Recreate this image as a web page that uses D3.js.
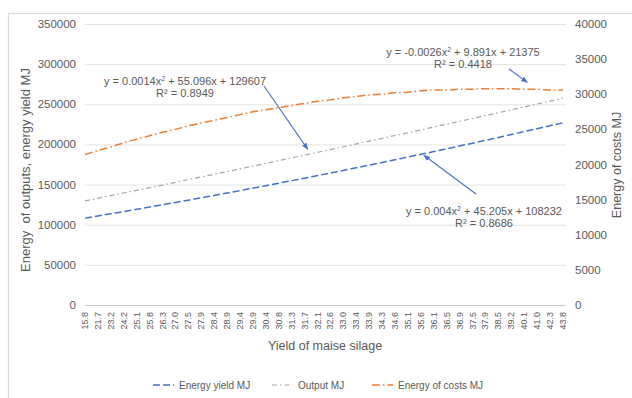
<!DOCTYPE html>
<html>
<head>
<meta charset="utf-8">
<script src="https://cdn.jsdelivr.net/npm/d3@7/dist/d3.min.js"></script>
<style>
  body { margin: 0; background: #fff; }
  text { font-family: "Liberation Sans", Arial, sans-serif; fill: #595959; }
</style>
</head>
<body>
<svg id="chart" width="632" height="398"></svg>
<script>
// categories (yield of maise silage)
const yields = ['15.8','21.7','23.2','24.2','25.1','25.8','26.3','27.0','27.5','27.9','28.4','28.9','29.4','29.9','30.4','30.8','31.3','31.7','32.1','32.6','33.0','33.4','33.9','34.3','34.6','35.1','35.6','36.1','36.5','36.9','37.5','37.9','38.5','39.2','40.1','41.0','42.3','43.8'];

// series
const energyYield = [108200,110900,113700,116400,119200,122000,124900,127700,130600,133600,136500,139500,142500,145600,148600,151700,154900,158000,161200,164400,167600,170900,174200,177500,180900,184300,187700,191100,194600,198100,201600,205100,208700,212300,216000,219600,223300,227000];
const outputMJ = [129600,132900,136200,139500,142800,146100,149400,152800,156100,159500,162900,166200,169600,173000,176400,179900,183300,186700,190200,193600,197100,200600,204100,207600,211100,214600,218100,221700,225200,228800,232300,235900,239500,243100,246700,250300,254000,257600];
const energyCosts = [21400,22000,22500,23100,23600,24100,24600,25000,25500,25900,26300,26700,27100,27500,27800,28100,28400,28700,29000,29200,29500,29700,29900,30000,30200,30300,30500,30600,30600,30700,30700,30800,30800,30800,30700,30700,30600,30600];

const leftTicks = [0,50000,100000,150000,200000,250000,300000,350000];
const rightTicks = [0,5000,10000,15000,20000,25000,30000,35000,40000];

const svg = d3.select('#chart');

// outer chart border
svg.append('rect')
  .attr('x', 8.5).attr('y', 13.5)
  .attr('width', 640).attr('height', 400)
  .attr('fill', 'none').attr('stroke', '#d9d9d9').attr('stroke-width', 1.2);

const plot = { left: 85, right: 566, top: 24, bottom: 305 };

const x = d3.scalePoint().domain(yields).range([85, 563]);
const y = d3.scaleLinear().domain([0, 350000]).range([plot.bottom, plot.top]);
const y2 = d3.scaleLinear().domain([0, 40000]).range([plot.bottom, plot.top]);

// gridlines
svg.append('g')
  .selectAll('line')
  .data(leftTicks)
  .join('line')
  .attr('x1', plot.left).attr('x2', plot.right)
  .attr('y1', d => y(d) + 0.5).attr('y2', d => y(d) + 0.5)
  .attr('stroke', d => d === 0 ? '#c8c8c8' : '#e3e3e3')
  .attr('stroke-width', 1);

// left axis labels
svg.append('g')
  .selectAll('text')
  .data(leftTicks)
  .join('text')
  .attr('x', 76).attr('y', d => y(d))
  .attr('dy', '0.35em')
  .attr('text-anchor', 'end')
  .style('font-size', '11.5px')
  .text(d => d);

// right axis labels
svg.append('g')
  .selectAll('text')
  .data(rightTicks)
  .join('text')
  .attr('x', 575).attr('y', d => y2(d))
  .attr('dy', '0.35em')
  .attr('text-anchor', 'start')
  .style('font-size', '11.5px')
  .text(d => d);

// x tick labels, rotated
svg.append('g')
  .selectAll('text')
  .data(yields)
  .join('text')
  .attr('transform', d => 'translate(' + (x(d) + 3) + ',312) rotate(-90)')
  .attr('text-anchor', 'end')
  .style('font-size', '9px')
  .text(d => d);

// axis titles
svg.append('text')
  .attr('transform', 'translate(30,170) rotate(-90)')
  .attr('text-anchor', 'middle')
  .style('font-size', '13px')
  .style('white-space', 'pre')
  .text('Energy  of outputs, energy yield MJ');

svg.append('text')
  .attr('transform', 'translate(621,165) rotate(-90)')
  .attr('text-anchor', 'middle')
  .style('font-size', '12.5px')
  .text('Energy of costs MJ');

svg.append('text')
  .attr('x', 325).attr('y', 350)
  .attr('text-anchor', 'middle')
  .style('font-size', '12.5px')
  .text('Yield of maise silage');

// series
const series = [
  { name: 'Energy yield MJ', values: energyYield, scale: y, color: '#4472c4', dash: '7,3', width: 1.5 },
  { name: 'Output MJ', values: outputMJ, scale: y, color: '#a5a5a5', dash: '5,3,1.5,3', width: 1.2 },
  { name: 'Energy of costs MJ', values: energyCosts, scale: y2, color: '#ed7d31', dash: '8,3,1.5,3', width: 1.5 }
];

series.forEach(s => {
  const line = d3.line()
    .curve(d3.curveMonotoneX)
    .x((d, i) => x(yields[i]))
    .y(d => s.scale(d));
  svg.append('path')
    .datum(s.values)
    .attr('fill', 'none')
    .attr('stroke', s.color)
    .attr('stroke-width', s.width)
    .attr('stroke-dasharray', s.dash)
    .attr('d', line);
});

// trendline labels with arrows
svg.append('defs').append('marker')
  .attr('id', 'arrow')
  .attr('viewBox', '0 0 10 10')
  .attr('refX', 9).attr('refY', 5)
  .attr('markerWidth', 6).attr('markerHeight', 6)
  .attr('orient', 'auto-start-reverse')
  .append('path')
  .attr('d', 'M0,1 L10,5 L0,9 z')
  .attr('fill', '#4472c4');

const trendLabels = [
  { eq: ['y = 0.0014x', '2', ' + 55.096x + 129607'], r2: 'R² = 0.8949', cx: 185, cy: 85,
    from: [264, 86], idx: 17, values: outputMJ, scale: y, off: -6 },
  { eq: ['y = -0.0026x', '2', ' + 9.891x + 21375'], r2: 'R² = 0.4418', cx: 463, cy: 56,
    from: [509, 69], idx: 34, values: energyCosts, scale: y2, off: -7 },
  { eq: ['y = 0.004x', '2', ' + 45.205x + 108232'], r2: 'R² = 0.8686', cx: 484, cy: 215,
    from: [476, 194], idx: 26, values: energyYield, scale: y, off: 1 }
];

trendLabels.forEach(t => {
  const txt = svg.append('text')
    .attr('x', t.cx).attr('y', t.cy)
    .attr('text-anchor', 'middle')
    .style('font-size', '11px');
  txt.append('tspan').text(t.eq[0]);
  txt.append('tspan').attr('dy', -4).style('font-size', '7px').text(t.eq[1]);
  txt.append('tspan').attr('dy', 4).text(t.eq[2]);

  svg.append('text')
    .attr('x', t.cx).attr('y', t.cy + 12)
    .attr('text-anchor', 'middle')
    .style('font-size', '11px')
    .text(t.r2);

  svg.append('line')
    .attr('x1', t.from[0]).attr('y1', t.from[1])
    .attr('x2', x(yields[t.idx]) + 3)
    .attr('y2', t.scale(t.values[t.idx]) + t.off)
    .attr('stroke', '#4472c4')
    .attr('stroke-width', 1.1)
    .attr('marker-end', 'url(#arrow)');
});

// legend
const legendPos = [153, 272, 372];
const legend = svg.append('g');
series.forEach((s, i) => {
  const lx = legendPos[i];
  legend.append('line')
    .attr('x1', lx).attr('x2', lx + 21)
    .attr('y1', 385).attr('y2', 385)
    .attr('stroke', s.color)
    .attr('stroke-width', s.width)
    .attr('stroke-dasharray', s.dash);
  legend.append('text')
    .attr('x', lx + 26).attr('y', 385)
    .attr('dy', '0.35em')
    .style('font-size', '10px')
    .text(s.name);
});
</script>
</body>
</html>
